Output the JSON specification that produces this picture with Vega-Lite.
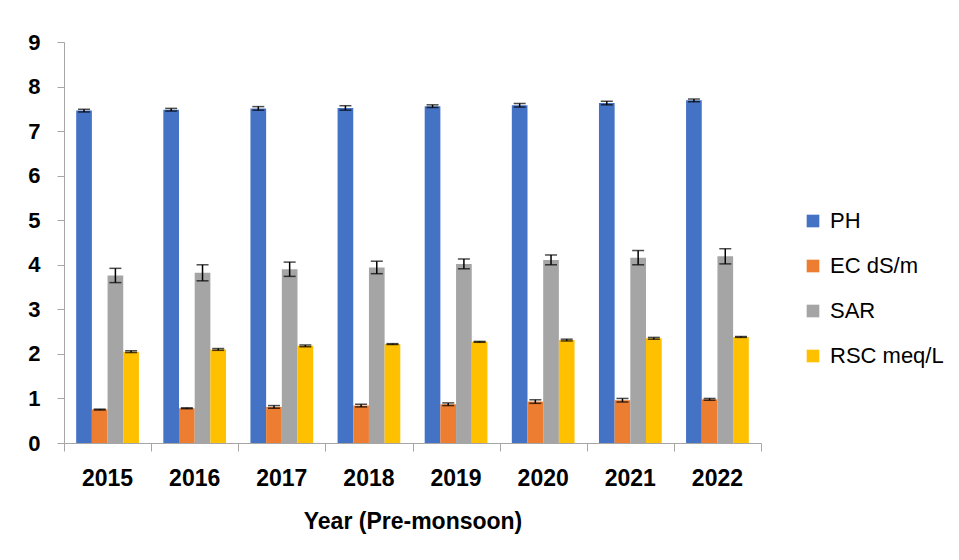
{
  "$schema": "https://vega.github.io/schema/vega-lite/v6.json",
  "width": 697,
  "height": 401,
  "autosize": {"type": "none"},
  "padding": {"left": 64, "top": 42, "right": 198, "bottom": 117},
  "background": "white",
  "config": {
    "view": {"stroke": null},
    "font": "Liberation Sans",
    "axis": {"grid": false, "domainColor": "#a6a6a6", "tickColor": "#a6a6a6", "labelColor": "#000000", "titleColor": "#000000"}
  },
  "data": {
    "values": [
      {"Year": "2015", "Parameter": "PH", "value": 7.46, "lo": 7.43, "hi": 7.49},
      {"Year": "2016", "Parameter": "PH", "value": 7.48, "lo": 7.45, "hi": 7.51},
      {"Year": "2017", "Parameter": "PH", "value": 7.51, "lo": 7.47, "hi": 7.55},
      {"Year": "2018", "Parameter": "PH", "value": 7.52, "lo": 7.47, "hi": 7.57},
      {"Year": "2019", "Parameter": "PH", "value": 7.56, "lo": 7.53, "hi": 7.59},
      {"Year": "2020", "Parameter": "PH", "value": 7.58, "lo": 7.54, "hi": 7.62},
      {"Year": "2021", "Parameter": "PH", "value": 7.63, "lo": 7.59, "hi": 7.67},
      {"Year": "2022", "Parameter": "PH", "value": 7.69, "lo": 7.66, "hi": 7.72},
      {"Year": "2015", "Parameter": "EC dS/m", "value": 0.75, "lo": 0.74, "hi": 0.76},
      {"Year": "2016", "Parameter": "EC dS/m", "value": 0.78, "lo": 0.77, "hi": 0.79},
      {"Year": "2017", "Parameter": "EC dS/m", "value": 0.81, "lo": 0.78, "hi": 0.84},
      {"Year": "2018", "Parameter": "EC dS/m", "value": 0.84, "lo": 0.81, "hi": 0.87},
      {"Year": "2019", "Parameter": "EC dS/m", "value": 0.87, "lo": 0.84, "hi": 0.9},
      {"Year": "2020", "Parameter": "EC dS/m", "value": 0.93, "lo": 0.89, "hi": 0.97},
      {"Year": "2021", "Parameter": "EC dS/m", "value": 0.96, "lo": 0.92, "hi": 1.0},
      {"Year": "2022", "Parameter": "EC dS/m", "value": 0.98, "lo": 0.96, "hi": 1.0},
      {"Year": "2015", "Parameter": "SAR", "value": 3.76, "lo": 3.6, "hi": 3.92},
      {"Year": "2016", "Parameter": "SAR", "value": 3.82, "lo": 3.64, "hi": 4.0},
      {"Year": "2017", "Parameter": "SAR", "value": 3.9, "lo": 3.74, "hi": 4.06},
      {"Year": "2018", "Parameter": "SAR", "value": 3.94, "lo": 3.8, "hi": 4.08},
      {"Year": "2019", "Parameter": "SAR", "value": 4.02, "lo": 3.91, "hi": 4.13},
      {"Year": "2020", "Parameter": "SAR", "value": 4.11, "lo": 4.0, "hi": 4.22},
      {"Year": "2021", "Parameter": "SAR", "value": 4.16, "lo": 4.0, "hi": 4.32},
      {"Year": "2022", "Parameter": "SAR", "value": 4.19, "lo": 4.02, "hi": 4.36},
      {"Year": "2015", "Parameter": "RSC meq/L", "value": 2.05, "lo": 2.03, "hi": 2.07},
      {"Year": "2016", "Parameter": "RSC meq/L", "value": 2.1, "lo": 2.08, "hi": 2.12},
      {"Year": "2017", "Parameter": "RSC meq/L", "value": 2.18, "lo": 2.16, "hi": 2.2},
      {"Year": "2018", "Parameter": "RSC meq/L", "value": 2.22, "lo": 2.21, "hi": 2.23},
      {"Year": "2019", "Parameter": "RSC meq/L", "value": 2.27, "lo": 2.26, "hi": 2.28},
      {"Year": "2020", "Parameter": "RSC meq/L", "value": 2.31, "lo": 2.29, "hi": 2.33},
      {"Year": "2021", "Parameter": "RSC meq/L", "value": 2.35, "lo": 2.33, "hi": 2.37},
      {"Year": "2022", "Parameter": "RSC meq/L", "value": 2.38, "lo": 2.37, "hi": 2.39}
    ]
  },
  "layer": [
    {
      "layer": [
        {
          "mark": {"type": "bar"},
          "encoding": {
            "x": {"field": "Year", "type": "nominal", "scale": {"paddingInner": 0.28, "paddingOuter": 0.14},
              "axis": {"title": "Year (Pre-monsoon)", "labelAngle": 0, "ticks": false, "tickSize": 0, "labelFontSize": 23, "labelFontWeight": "bold", "labelPadding": 24, "titleFontSize": 23, "titleFontWeight": "bold", "titlePadding": 20}},
            "xOffset": {"field": "Parameter", "type": "nominal", "sort": ["PH", "EC dS/m", "SAR", "RSC meq/L"], "scale": {"paddingInner": 0, "paddingOuter": 0}},
            "y": {"field": "value", "type": "quantitative", "scale": {"domain": [0, 9]},
              "axis": {"title": null, "values": [0,1,2,3,4,5,6,7,8,9], "tickSize": 7, "labelFontSize": 22, "labelFontWeight": "bold", "labelPadding": 17}},
            "color": {"field": "Parameter", "type": "nominal", "sort": ["PH", "EC dS/m", "SAR", "RSC meq/L"],
              "scale": {"domain": ["PH", "EC dS/m", "SAR", "RSC meq/L"], "range": ["#4472C4", "#ED7D31", "#A5A5A5", "#FFC000"]},
              "legend": {"title": null, "orient": "none", "legendX": 738, "legendY": 168, "symbolType": "square", "symbolSize": 160, "symbolStrokeWidth": 0, "labelFontSize": 22, "rowPadding": 23, "labelOffset": 6}}
          }
        },
        {
          "mark": {"type": "rule", "color": "black", "strokeWidth": 1.5},
          "encoding": {
            "x": {"field": "Year", "type": "nominal"},
            "xOffset": {"field": "Parameter", "type": "nominal", "sort": ["PH", "EC dS/m", "SAR", "RSC meq/L"]},
            "y": {"field": "lo", "type": "quantitative"},
            "y2": {"field": "hi"}
          }
        },
        {
          "mark": {"type": "tick", "color": "black", "size": 12, "thickness": 1.5},
          "encoding": {
            "x": {"field": "Year", "type": "nominal"},
            "xOffset": {"field": "Parameter", "type": "nominal", "sort": ["PH", "EC dS/m", "SAR", "RSC meq/L"]},
            "y": {"field": "lo", "type": "quantitative"}
          }
        },
        {
          "mark": {"type": "tick", "color": "black", "size": 12, "thickness": 1.5},
          "encoding": {
            "x": {"field": "Year", "type": "nominal"},
            "xOffset": {"field": "Parameter", "type": "nominal", "sort": ["PH", "EC dS/m", "SAR", "RSC meq/L"]},
            "y": {"field": "hi", "type": "quantitative"}
          }
        }
      ]
    },
    {
      "mark": {"type": "rule", "opacity": 0},
      "encoding": {
        "x": {"datum": 0, "type": "quantitative", "scale": {"domain": [0, 8], "nice": false},
          "axis": {"orient": "bottom", "values": [0,1,2,3,4,5,6,7,8], "labels": false, "domain": false, "tickSize": 8, "title": null}}
      }
    }
  ],
  "resolve": {"scale": {"x": "independent"}}
}
